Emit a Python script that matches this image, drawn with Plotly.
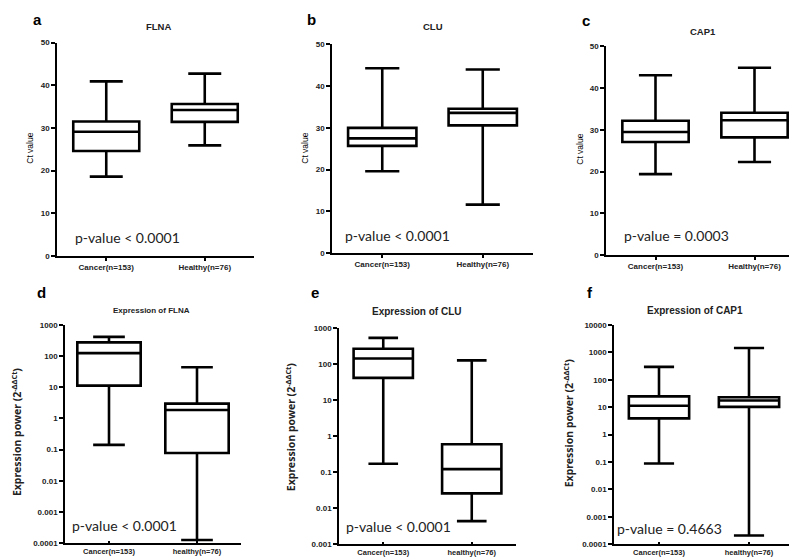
import plotly.graph_objects as go

W, H = 797, 558

# categories
cats_top = ["Cancer(n=153)", "Healthy(n=76)"]
cats_bot = ["Cancer(n=153)", "healthy(n=76)"]

# box stats per panel: [cancer, healthy]
flna_ct = dict(lower=[18.6, 25.9], q1=[24.6, 31.4], med=[29.1, 34.2], q3=[31.5, 35.6], upper=[40.9, 42.7])
clu_ct = dict(lower=[19.6, 11.6], q1=[25.7, 30.6], med=[27.5, 33.6], q3=[30.0, 34.6], upper=[44.3, 44.0])
cap1_ct = dict(lower=[19.4, 22.3], q1=[27.1, 28.2], med=[29.5, 32.3], q3=[32.2, 34.1], upper=[43.1, 44.9])
flna_expr = dict(lower=[0.143, 0.000127], q1=[11.3, 0.0787], med=[124, 1.87], q3=[274, 3.0], upper=[412, 44])
clu_expr = dict(lower=[0.171, 0.00439], q1=[41, 0.0258], med=[141, 0.121], q3=[262, 0.59], upper=[528, 125])
cap1_expr = dict(lower=[0.088, 0.00021], q1=[3.9, 10.2], med=[11.3, 17.4], q3=[24.8, 22.9], upper=[295, 1430])

titles = ["FLNA", "CLU", "CAP1", "Expression of FLNA", "Expression of CLU", "Expression of CAP1"]
letters = ["a", "b", "c", "d", "e", "f"]
pvals = ["p-value < 0.0001", "p-value < 0.0001", "p-value = 0.0003",
         "p-value < 0.0001", "p-value < 0.0001", "p-value = 0.4663"]

log_vals = [10000, 1000, 100, 10, 1, 0.1, 0.01, 0.001, 0.0001]
log_text = ["10000", "1000", "100", "10", "1", "0.1", "0.01", "0.001", "0.0001"]


def xdom(l, r):
    return [l / W, r / W]


def ydom(t, b):
    return [1 - b / H, 1 - t / H]


# panel layout in pixels: (x left, x right, y top, y bottom)
panels = [
    (49, 246, 31, 248),
    (324, 525, 33, 245),
    (598, 796, 35, 247),
    (57, 233, 318, 540),
    (331, 508, 321, 541),
    (606, 786, 318, 541),
]
stats = [flna_ct, clu_ct, cap1_ct, flna_expr, clu_expr, cap1_expr]
box_w = [0.67, 0.68, 0.67, 0.72, 0.67, 0.67]

fig = go.Figure()

for i, s in enumerate(stats):
    n = "" if i == 0 else str(i + 1)
    cats = cats_top if i < 3 else cats_bot
    fig.add_trace(go.Box(
        x=cats, q1=s["q1"], median=s["med"], q3=s["q3"],
        lowerfence=s["lower"], upperfence=s["upper"],
        xaxis="x" + n, yaxis="y" + n,
        fillcolor="white", line=dict(color="black", width=2.6),
        width=box_w[i], whiskerwidth=0.5, showlegend=False, hoverinfo="skip",
    ))
    l, r, t, b = panels[i]
    xa = dict(domain=xdom(l, r), anchor="y" + n, type="category", range=[-0.5, 1.5],
              showline=True, linecolor="black", linewidth=1.5,
              ticks="outside" if i < 3 else "inside",
              ticklen=3, tickcolor="black", tickwidth=1.5,
              showgrid=False, zeroline=False,
              tickfont=dict(family="Liberation Sans", size=8 if i < 3 else 7.5,
                            color="#222", weight="bold"))
    ya = dict(domain=ydom(t, b), anchor="x" + n, showline=True, linecolor="black",
              linewidth=1.5, ticks="outside", ticklen=4, tickcolor="black", tickwidth=1.5,
              showgrid=False, zeroline=False,
              tickfont=dict(family="Liberation Sans", size=8, color="#222", weight="bold"))
    if i < 3:
        ya.update(range=[0, 50], dtick=10)
    elif i == 3:
        ya.update(type="log", range=[-4, 3], tickvals=log_vals[1:], ticktext=log_text[1:])
    elif i == 4:
        ya.update(type="log", range=[-3, 3], tickvals=log_vals[1:8], ticktext=log_text[1:8])
    else:
        ya.update(type="log", range=[-4, 4], tickvals=log_vals, ticktext=log_text)
    fig.layout["xaxis" + n] = xa
    fig.layout["yaxis" + n] = ya


def note(x, y, text, font, angle=0):
    return dict(x=x / W, y=1 - y / H, xref="paper", yref="paper", text=text,
                showarrow=False, textangle=angle, font=font,
                xanchor="center", yanchor="middle")


annots = []
# titles
title_pos = [(150, 15, 9.5), (425, 15, 9.5), (695, 20, 9.5), (143, 303, 8), (408, 304, 10), (687, 303, 10)]
for txt, (x, y, sz) in zip(titles, title_pos):
    annots.append(note(x, y, "<b>" + txt + "</b>",
                       dict(family="Liberation Sans", size=sz, color="#222")))
# panel letters
letter_pos = [(30, 8), (303, 8), (578, 9), (33, 285), (307, 285), (582, 285)]
for txt, (x, y) in zip(letters, letter_pos):
    annots.append(note(x, y, "<b>" + txt + "</b>",
                       dict(family="Liberation Sans", size=15, color="black")))
# p-values
p_pos = [(120, 229), (389, 227), (668, 227), (117, 522), (390, 523), (661, 525)]
for txt, (x, y) in zip(pvals, p_pos):
    annots.append(note(x, y, txt, dict(family="Lato", size=14, color="#222")))
# y-axis titles
yt_pos = [(22, 139), (297, 139), (572, 140)]
for x, y in yt_pos:
    annots.append(note(x, y, "Ct value",
                       dict(family="Liberation Sans", size=8.5, color="black"), -90))
yb_pos = [(8, 427), (282, 422), (560, 418)]
for x, y in yb_pos:
    annots.append(note(x, y, "<b>Expression power (2<sup>-ΔΔCt</sup>)</b>",
                       dict(family="Noto Sans", size=10.5, color="#222"), -90))

fig.update_layout(
    width=W, height=H, margin=dict(l=0, r=0, t=0, b=0),
    paper_bgcolor="white", plot_bgcolor="white",
    annotations=annots, boxmode="overlay",
)

fig.write_html("out.html")
